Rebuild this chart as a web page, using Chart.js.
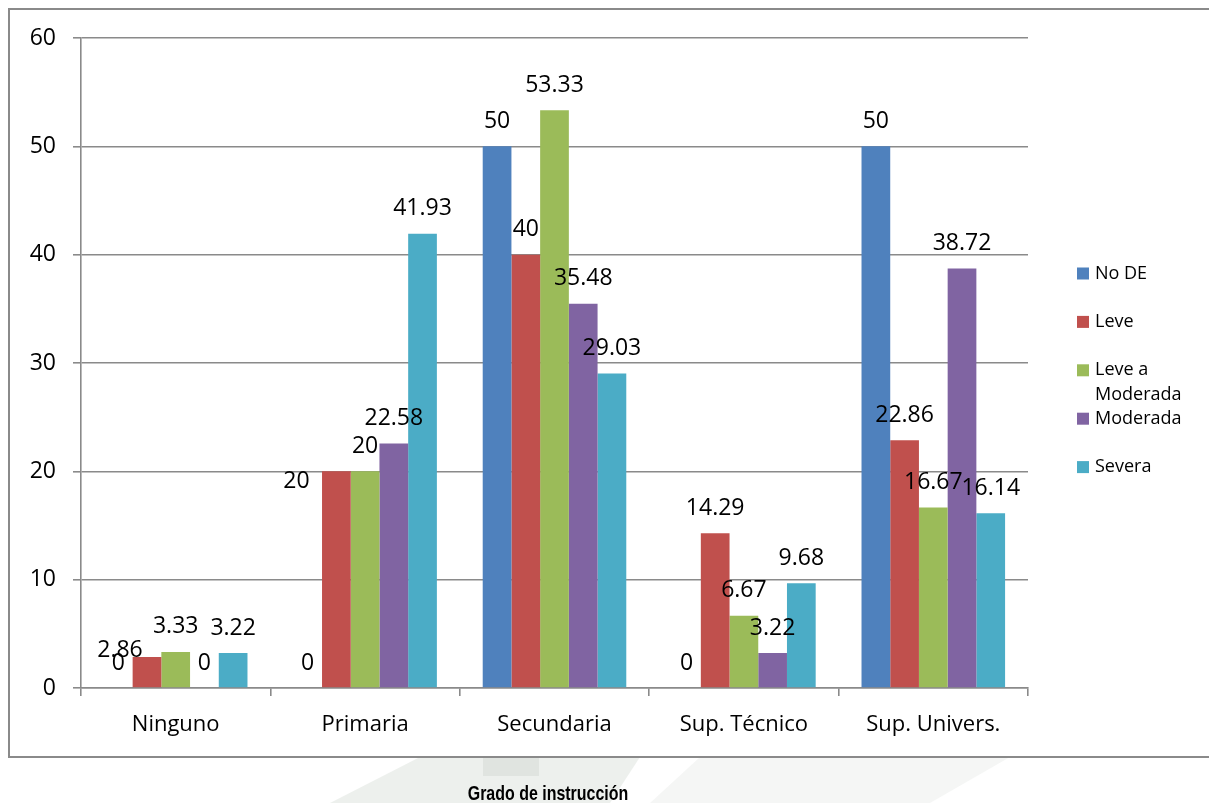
<!DOCTYPE html>
<html lang="es">
<head>
<meta charset="utf-8">
<title>Grado de instrucción</title>
<script src="https://cdn.jsdelivr.net/npm/chart.js@4.4.1/dist/chart.umd.min.js"></script>
<style>
  html, body { margin: 0; padding: 0; background: #fff; }
  #wrap { width: 1209px; height: 803px; }
</style>
</head>
<body>
<div id="wrap"><canvas id="grado" width="1209" height="803"></canvas></div>
<script>
// Categorías y series (porcentajes)
const categories = ['Ninguno', 'Primaria', 'Secundaria', 'Sup. Técnico', 'Sup. Univers.'];
const seriesNames = ['No DE', 'Leve', 'Leve a Moderada', 'Moderada', 'Severa'];
const noDE = [0, 0, 50, 0, 50];
const leve = [2.86, 20, 40, 14.29, 22.86];
const leveModerada = [3.33, 20, 53.33, 6.67, 16.67];
const moderada = [0, 22.58, 35.48, 3.22, 38.72];
const severa = [3.22, 41.93, 29.03, 9.68, 16.14];
const yTicks = [0, 10, 20, 30, 40, 50, 60];
const axisTitle = 'Grado de instrucción';

const colors = ['#4F81BD', '#C0504D', '#9BBB59', '#8064A2', '#4BACC6'];
const gridGray = '#8a8a8a';
const FONT = '"Open Sans", "Noto Sans", sans-serif';

// a couple of labels sit off to the left of their bar so they don't collide
// key = dataset-category
const labelShift = { '1-0': [-27, 18], '1-1': [-40, 35] };

const seriesValues = [noDE, leve, leveModerada, moderada, severa];

// frame around the chart, faint backdrop under it, x-axis title below
const framePlugin = {
  id: 'frame',
  beforeDraw(chart) {
    const ctx = chart.ctx;
    ctx.save();
    ctx.fillStyle = 'rgba(214, 222, 214, 0.45)';
    ctx.beginPath();
    ctx.moveTo(330, 803);
    ctx.lineTo(420, 757);
    ctx.lineTo(640, 757);
    ctx.lineTo(610, 803);
    ctx.closePath();
    ctx.fill();
    ctx.beginPath();
    ctx.moveTo(650, 803);
    ctx.lineTo(700, 757);
    ctx.lineTo(1010, 757);
    ctx.lineTo(930, 803);
    ctx.closePath();
    ctx.fillStyle = 'rgba(225, 230, 225, 0.35)';
    ctx.fill();
    ctx.fillStyle = 'rgba(200, 206, 200, 0.35)';
    ctx.fillRect(483, 758, 56, 18);
    ctx.strokeStyle = gridGray;
    ctx.lineWidth = 2;
    ctx.strokeRect(9, 9, 1220, 748);
    ctx.restore();
  },
  afterDraw(chart) {
    const ctx = chart.ctx;
    ctx.save();
    ctx.translate(548, 794);
    ctx.scale(0.76, 1);
    ctx.font = 'bold 21px "Liberation Sans", Arial, sans-serif';
    ctx.fillStyle = '#000';
    ctx.textAlign = 'center';
    ctx.textBaseline = 'middle';
    ctx.fillText(axisTitle, 0, 0);
    ctx.restore();
  }
};

// value labels above each bar
const valueLabels = {
  id: 'valueLabels',
  afterDatasetsDraw(chart) {
    const ctx = chart.ctx;
    ctx.save();
    ctx.font = '23px ' + FONT;
    ctx.fillStyle = '#000';
    ctx.textAlign = 'center';
    ctx.textBaseline = 'middle';
    chart.data.datasets.forEach((ds, di) => {
      chart.getDatasetMeta(di).data.forEach((bar, i) => {
        const shift = labelShift[di + '-' + i] || [0, 0];
        ctx.fillText(String(ds.data[i]), bar.x + shift[0], bar.y - 25 + shift[1]);
      });
    });
    ctx.restore();
  }
};

// legend on the right, wrapping long names
const sideLegend = {
  id: 'sideLegend',
  afterDraw(chart) {
    const ctx = chart.ctx;
    const x = 1077, textX = 1095, maxW = 108;
    let y = 273.5;
    ctx.save();
    ctx.font = '18px ' + FONT;
    ctx.textBaseline = 'middle';
    chart.data.datasets.forEach((ds) => {
      ctx.fillStyle = ds.backgroundColor;
      ctx.fillRect(x, y - 6, 12, 12);
      ctx.fillStyle = '#000';
      const words = ds.label.split(' ');
      const lines = [];
      let line = '';
      words.forEach(w => {
        const test = line ? line + ' ' + w : w;
        if (line && ctx.measureText(test).width > maxW) { lines.push(line); line = w; }
        else line = test;
      });
      lines.push(line);
      lines.forEach((l, k) => ctx.fillText(l, textX, y + k * 25));
      y += 48.4;
    });
    ctx.restore();
  }
};

new Chart(document.getElementById('grado'), {
  type: 'bar',
  data: {
    labels: categories,
    datasets: seriesNames.map((name, i) => ({
      label: name,
      data: seriesValues[i],
      backgroundColor: colors[i],
      borderWidth: 0,
      categoryPercentage: 0.758,
      barPercentage: 1.0
    }))
  },
  options: {
    responsive: false,
    animation: false,
    layout: { padding: { top: 38, right: 181, left: 0, bottom: 46 } },
    plugins: {
      legend: { display: false },
      tooltip: { enabled: false },
      title: { display: false }
    },
    scales: {
      x: {
        afterFit(scale) { scale.height = 69; },
        grid: { display: true, drawOnChartArea: false, drawTicks: true, tickLength: 8, color: gridGray, lineWidth: 1.6, offset: true },
        border: { display: true, color: gridGray, width: 1.6 },
        ticks: { color: '#000', font: { family: FONT, size: 22 }, padding: 16, maxRotation: 0 }
      },
      y: {
        min: 0,
        max: 60,
        afterFit(scale) { scale.width = 81; },
        afterBuildTicks(scale) { scale.ticks = yTicks.map(v => ({ value: v })); },
        grid: { color: gridGray, lineWidth: 1.6, tickLength: 8, drawTicks: true },
        border: { display: true, color: gridGray, width: 1.6 },
        ticks: { color: '#000', font: { family: FONT, size: 23 }, padding: 17 }
      }
    }
  },
  plugins: [framePlugin, valueLabels, sideLegend]
});
</script>
</body>
</html>
